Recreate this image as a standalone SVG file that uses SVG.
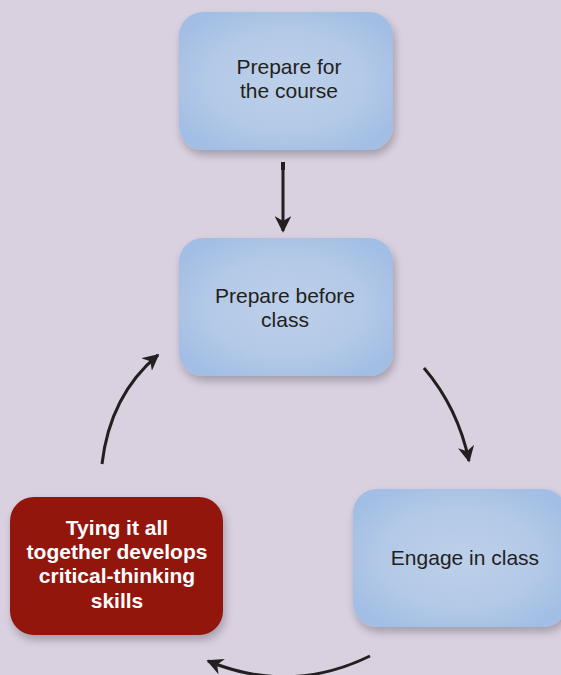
<svg xmlns="http://www.w3.org/2000/svg" width="561" height="675" viewBox="0 0 561 675">
<defs>
<radialGradient id="blue" cx="0.5" cy="0.5" r="0.6">
<stop offset="0" stop-color="#bdd0ea"/>
<stop offset="0.6" stop-color="#b3c9e7"/>
<stop offset="1" stop-color="#a2bee4"/>
</radialGradient>
<filter id="sh" x="-20%" y="-20%" width="140%" height="150%">
<feGaussianBlur in="SourceAlpha" stdDeviation="4"/>
<feOffset dx="2" dy="5"/>
<feComponentTransfer><feFuncA type="linear" slope="0.25"/></feComponentTransfer>
<feMerge><feMergeNode/><feMergeNode in="SourceGraphic"/></feMerge>
</filter>
<marker id="ah" viewBox="0 0 10 10" refX="9" refY="5" markerWidth="5.5" markerHeight="5.5" orient="auto" markerUnits="strokeWidth">
<path d="M0,0 L10,5 L0,10 L3,5 Z" fill="#231f20"/>
</marker>
<style>
.box{fill:url(#blue);filter:url(#sh)}
.red{fill:#93140f;filter:url(#sh)}
.t{font-family:"Liberation Sans",Arial,sans-serif;font-size:21px;fill:#231f20;text-anchor:middle}
.w{font-family:"Liberation Sans",Arial,sans-serif;font-size:21px;font-weight:bold;fill:#ffffff;text-anchor:middle}
.c{fill:none;stroke:#231f20;stroke-width:3;marker-end:url(#ah)}
</style>
</defs>
<rect width="561" height="675" fill="#d9d0e0"/>
<g id="n1">
<rect class="box" x="179" y="12" width="214" height="138" rx="24"/>
<text class="t" x="289" y="74">Prepare for</text>
<text class="t" x="289" y="98">the course</text>
</g>
<g id="n2">
<rect class="box" x="179" y="238" width="214" height="138" rx="24"/>
<text class="t" x="285" y="303">Prepare before</text>
<text class="t" x="285" y="327">class</text>
</g>
<g id="n3">
<rect class="box" x="353" y="489" width="214" height="138" rx="24"/>
<text class="t" x="465" y="565">Engage in class</text>
</g>
<g id="n4">
<rect class="red" x="10" y="497" width="213" height="138" rx="24"/>
<text class="w" x="117" y="535">Tying it all</text>
<text class="w" x="117" y="559">together develops</text>
<text class="w" x="117" y="583">critical-thinking</text>
<text class="w" x="117" y="608">skills</text>
</g>
<g id="connectors">
<rect x="281" y="162" width="4" height="8" fill="#231f20"/>
<path class="c" d="M283,163 L283,231"/>
<path class="c" d="M424,368 Q458,408 469,461"/>
<path class="c" d="M102,464 Q110,395 158,355"/>
<path class="c" d="M370,656 Q290,695 208,661"/>
</g>
</svg>
